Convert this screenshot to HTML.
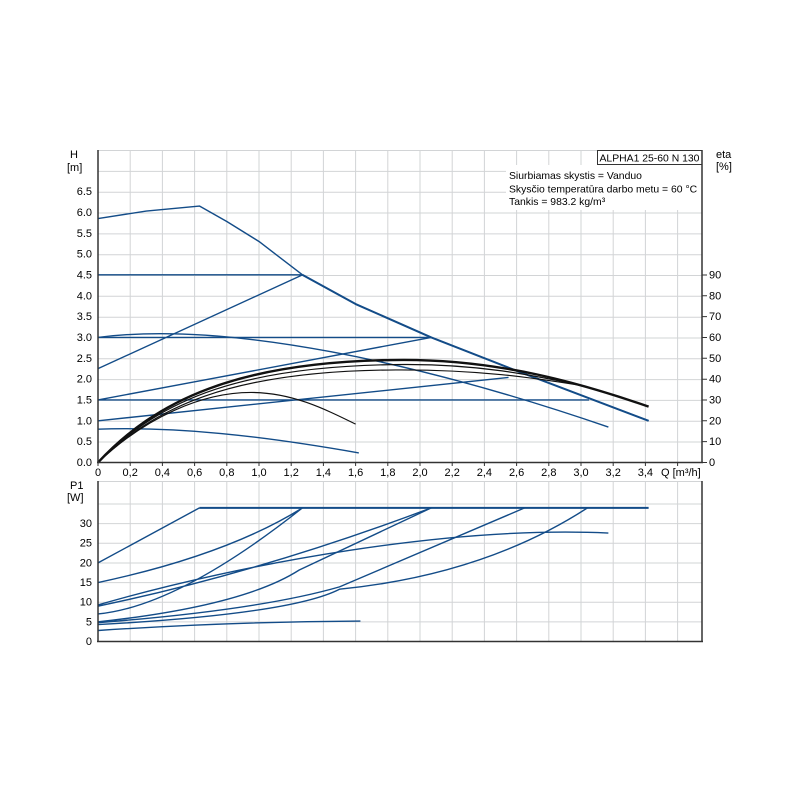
<!DOCTYPE html>
<html><head><meta charset="utf-8"><style>
html,body{margin:0;padding:0;background:#fff;}
svg{display:block;font-family:"Liberation Sans",Arial,sans-serif;font-size:11px;fill:#000;}
.g{stroke:#d2d4d6;stroke-width:1;}
.b{fill:none;stroke:#134c88;stroke-width:1.4;vector-effect:non-scaling-stroke;stroke-linejoin:round;}
.k{fill:none;stroke:#111;stroke-width:1.2;vector-effect:non-scaling-stroke;stroke-linejoin:round;}
.lg{font-size:10.4px;}
</style></head><body>
<svg width="800" height="800" viewBox="0 0 800 800">
<rect width="800" height="800" fill="#fff"/>
<g class="g">
<line x1="98" y1="150.5" x2="702" y2="150.5"/>
<line x1="98" y1="171.4" x2="702" y2="171.4"/><line x1="98" y1="192.2" x2="702" y2="192.2"/>
<line x1="98" y1="213" x2="702" y2="213"/><line x1="98" y1="233.9" x2="702" y2="233.9"/>
<line x1="98" y1="254.7" x2="702" y2="254.7"/><line x1="98" y1="275.5" x2="702" y2="275.5"/>
<line x1="98" y1="296.3" x2="702" y2="296.3"/><line x1="98" y1="317.2" x2="702" y2="317.2"/>
<line x1="98" y1="338" x2="702" y2="338"/><line x1="98" y1="358.8" x2="702" y2="358.8"/>
<line x1="98" y1="379.6" x2="702" y2="379.6"/><line x1="98" y1="400.4" x2="702" y2="400.4"/>
<line x1="98" y1="421.2" x2="702" y2="421.2"/><line x1="98" y1="442" x2="702" y2="442"/>
<line x1="130.2" y1="150" x2="130.2" y2="462"/><line x1="162.4" y1="150" x2="162.4" y2="462"/>
<line x1="194.6" y1="150" x2="194.6" y2="462"/><line x1="226.8" y1="150" x2="226.8" y2="462"/>
<line x1="259" y1="150" x2="259" y2="462"/><line x1="291.2" y1="150" x2="291.2" y2="462"/>
<line x1="323.4" y1="150" x2="323.4" y2="462"/><line x1="355.6" y1="150" x2="355.6" y2="462"/>
<line x1="387.8" y1="150" x2="387.8" y2="462"/><line x1="420" y1="150" x2="420" y2="462"/>
<line x1="452.2" y1="150" x2="452.2" y2="462"/><line x1="484.4" y1="150" x2="484.4" y2="462"/>
<line x1="516.6" y1="150" x2="516.6" y2="462"/><line x1="548.8" y1="150" x2="548.8" y2="462"/>
<line x1="581" y1="150" x2="581" y2="462"/><line x1="613.2" y1="150" x2="613.2" y2="462"/>
<line x1="645.4" y1="150" x2="645.4" y2="462"/><line x1="677.6" y1="150" x2="677.6" y2="462"/>
</g>
<g class="g">
<line x1="98" y1="481.5" x2="702" y2="481.5"/>
<line x1="98" y1="504" x2="702" y2="504"/><line x1="98" y1="523.6" x2="702" y2="523.6"/>
<line x1="98" y1="543.3" x2="702" y2="543.3"/><line x1="98" y1="563" x2="702" y2="563"/>
<line x1="98" y1="582.6" x2="702" y2="582.6"/><line x1="98" y1="602.2" x2="702" y2="602.2"/>
<line x1="98" y1="621.9" x2="702" y2="621.9"/>
<line x1="130.2" y1="481" x2="130.2" y2="641"/><line x1="162.4" y1="481" x2="162.4" y2="641"/>
<line x1="194.6" y1="481" x2="194.6" y2="641"/><line x1="226.8" y1="481" x2="226.8" y2="641"/>
<line x1="259" y1="481" x2="259" y2="641"/><line x1="291.2" y1="481" x2="291.2" y2="641"/>
<line x1="323.4" y1="481" x2="323.4" y2="641"/><line x1="355.6" y1="481" x2="355.6" y2="641"/>
<line x1="387.8" y1="481" x2="387.8" y2="641"/><line x1="420" y1="481" x2="420" y2="641"/>
<line x1="452.2" y1="481" x2="452.2" y2="641"/><line x1="484.4" y1="481" x2="484.4" y2="641"/>
<line x1="516.6" y1="481" x2="516.6" y2="641"/><line x1="548.8" y1="481" x2="548.8" y2="641"/>
<line x1="581" y1="481" x2="581" y2="641"/><line x1="613.2" y1="481" x2="613.2" y2="641"/>
<line x1="645.4" y1="481" x2="645.4" y2="641"/><line x1="677.6" y1="481" x2="677.6" y2="641"/>
</g>
<rect x="506" y="165" width="196" height="45" fill="#fff"/>
<rect x="597.5" y="150.5" width="104.5" height="14" fill="#fff" stroke="#333"/>
<text class="lg" x="599.5" y="161.5">ALPHA1 25-60 N 130</text>
<text class="lg" x="509" y="179">Siurbiamas skystis = Vanduo</text>
<text class="lg" x="509" y="192.5">Skysčio temperatūra darbo metu = 60 °C</text>
<text class="lg" x="509" y="205">Tankis = 983.2 kg/m³</text>

<g transform="translate(98,462.5) scale(161,-41.7)">
<polyline class="b" points="0,5.85 0.3,6.03 0.63,6.15 0.8,5.78 1.0,5.3 1.27,4.5 1.6,3.8 2.07,3.0 2.6,2.2 3.42,1.0"/>
<polyline class="b" style="stroke-width:2" points="1.27,4.5 1.6,3.8 2.07,3.0 2.6,2.2 3.42,1.0"/>
<path class="b" d="M0,4.5 L1.27,4.5 M0,2.25 L1.27,4.5 M0,3 L2.07,3 M0,1.5 L2.07,3 M0,1.5 L3.05,1.5 M0,1 L2.55,2.04"/>
<path class="b" d="M0,3 C0.8,3.4 2.0,2.4 3.17,0.85"/>
<path class="b" d="M0,0.8 C0.5,0.86 1.0,0.65 1.62,0.23"/>
<path class="k" d="M0,0 C0.3,1.1 0.65,1.68 0.95,1.68 C1.2,1.68 1.4,1.3 1.6,0.92"/>
<path class="k" d="M0,0 C0.35,1.3 0.8,2.2 1.85,2.22 C2.4,2.23 2.75,2.0 3.0,1.85"/>
<path class="k" d="M0,0 C0.35,1.35 0.8,2.33 1.9,2.35 C2.4,2.36 2.75,2.05 3.0,1.85"/>
<path class="k" style="stroke-width:2.4" d="M0,0 C0.35,1.45 0.85,2.45 1.9,2.46 C2.5,2.46 3.0,1.9 3.42,1.34"/>
</g>

<g transform="translate(98,641.5) scale(161,-3.93)">
<path class="b" style="stroke-width:2" d="M0.63,34 L3.42,34"/>
<path class="b" d="M0,20 L0.63,34 M0,15 Q0.8,22 1.27,34 M0,7 Q0.5,9 1.27,34 M0,9 Q1.0,17.5 2.07,34 M0,9.3 C0.9,20 2.2,29.5 3.17,27.6"/>
<path class="b" d="M0,5 Q0.9,9 1.25,18.2 L2.07,34"/>
<path class="b" d="M0,4.8 Q1.0,8 1.5,13.9 L2.65,34"/>
<path class="b" d="M0,4.3 Q1.2,7 1.5,13.3 Q2.4,17 3.04,34"/>
<path class="b" d="M0,2.8 Q0.8,5 1.63,5.2"/>
</g>

<g stroke="#333" stroke-width="1.5" fill="none">
<line x1="98" y1="150" x2="98" y2="462.5"/>
<line x1="97" y1="462.5" x2="703" y2="462.5"/>
<line x1="702" y1="150" x2="702" y2="463"/>
<line x1="98" y1="481" x2="98" y2="642"/>
<line x1="97" y1="641.5" x2="703" y2="641.5"/>
<line x1="702" y1="481" x2="702" y2="642"/>
</g>
<g stroke="#333" stroke-width="1">
<path d="M702,462.5h5M702,441.6h5M702,420.8h5M702,400h5M702,379.2h5M702,358.3h5M702,337.5h5M702,316.6h5M702,295.8h5M702,275h5"/>
<path d="M98,462v4M130.2,462v4M162.4,462v4M194.6,462v4M226.8,462v4M259,462v4M291.2,462v4M323.4,462v4M355.6,462v4M387.8,462v4M420,462v4M452.2,462v4M484.4,462v4M516.6,462v4M548.8,462v4M581,462v4M613.2,462v4M645.4,462v4M677.6,462v4"/>
</g>

<g text-anchor="end">
<text x="92" y="466">0.0</text><text x="92" y="445.2">0.5</text><text x="92" y="424.3">1.0</text>
<text x="92" y="403.5">1.5</text><text x="92" y="382.6">2.0</text><text x="92" y="361.8">2.5</text>
<text x="92" y="341">3.0</text><text x="92" y="320.1">3.5</text><text x="92" y="299.3">4.0</text>
<text x="92" y="278.5">4.5</text><text x="92" y="257.6">5.0</text><text x="92" y="236.8">5.5</text>
<text x="92" y="216">6.0</text><text x="92" y="195.1">6.5</text>
<text x="92" y="645">0</text><text x="92" y="625.4">5</text><text x="92" y="605.7">10</text>
<text x="92" y="586">15</text><text x="92" y="566.4">20</text><text x="92" y="546.7">25</text>
<text x="92" y="527">30</text>
</g>
<text x="70" y="158">H</text><text x="67" y="171">[m]</text>
<text x="70" y="489">P1</text><text x="67" y="501">[W]</text>
<text x="716" y="158">eta</text><text x="716" y="170">[%]</text>
<g>
<text x="709" y="466">0</text><text x="709" y="445.2">10</text><text x="709" y="424.3">20</text>
<text x="709" y="403.5">30</text><text x="709" y="382.6">40</text><text x="709" y="361.8">50</text>
<text x="709" y="341">60</text><text x="709" y="320.1">70</text><text x="709" y="299.3">80</text>
<text x="709" y="278.5">90</text>
</g>
<g text-anchor="middle">
<text x="98" y="476">0</text><text x="130.2" y="476">0,2</text><text x="162.4" y="476">0,4</text>
<text x="194.6" y="476">0,6</text><text x="226.8" y="476">0,8</text><text x="259" y="476">1,0</text>
<text x="291.2" y="476">1,2</text><text x="323.4" y="476">1,4</text><text x="355.6" y="476">1,6</text>
<text x="387.8" y="476">1,8</text><text x="420" y="476">2,0</text><text x="452.2" y="476">2,2</text>
<text x="484.4" y="476">2,4</text><text x="516.6" y="476">2,6</text><text x="548.8" y="476">2,8</text>
<text x="581" y="476">3,0</text><text x="613.2" y="476">3,2</text><text x="645.4" y="476">3,4</text>
</g>
<text x="661" y="476">Q [m³/h]</text>
</svg>
</body></html>
